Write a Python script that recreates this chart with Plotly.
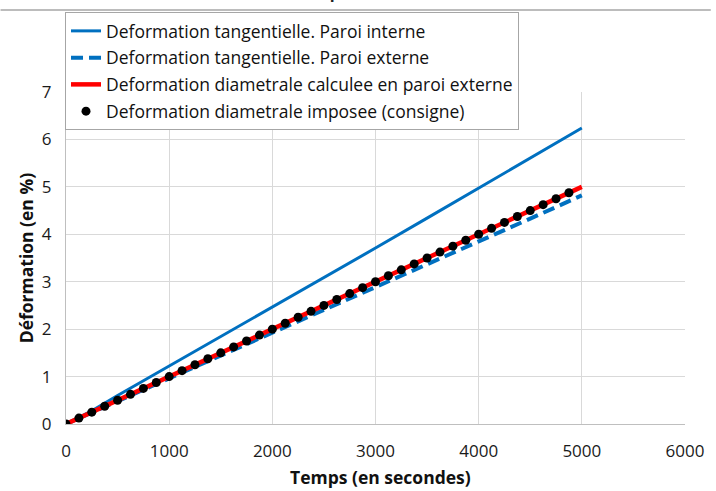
import plotly.graph_objects as go

# Temps (s) et déformations (%)
temps_paroi = [0, 250, 500, 1000, 1500, 2000, 2500, 3000, 3500, 4000, 4500, 5000]
def_tang_interne = [0, 0.28, 0.60, 1.22, 1.84, 2.46, 3.08, 3.71, 4.34, 4.97, 5.60, 6.24]
def_tang_externe = [0, 0.24, 0.47, 0.95, 1.43, 1.91, 2.39, 2.88, 3.36, 3.84, 4.33, 4.82]
def_diam_calculee = [0, 0.25, 0.50, 1.00, 1.50, 2.00, 2.50, 3.00, 3.50, 4.00, 4.50, 5.00]

temps_consigne = [0, 125, 250, 375, 500, 625, 750, 875, 1000, 1125, 1250, 1375,
                  1500, 1625, 1750, 1875, 2000, 2125, 2250, 2375, 2500, 2625,
                  2750, 2875, 3000, 3125, 3250, 3375, 3500, 3625, 3750, 3875,
                  4000, 4125, 4250, 4375, 4500, 4625, 4750, 4875]
def_diam_consigne = [0, 0.125, 0.25, 0.375, 0.5, 0.625, 0.75, 0.875, 1.0, 1.125,
                     1.25, 1.375, 1.5, 1.625, 1.75, 1.875, 2.0, 2.125, 2.25, 2.375,
                     2.5, 2.625, 2.75, 2.875, 3.0, 3.125, 3.25, 3.375, 3.5, 3.625,
                     3.75, 3.875, 4.0, 4.125, 4.25, 4.375, 4.5, 4.625, 4.75, 4.875]

x_ticks = [0, 1000, 2000, 3000, 4000, 5000, 6000]
y_ticks = [0, 1, 2, 3, 4, 5, 6, 7]

noms = [
    "Deformation tangentielle. Paroi interne",
    "Deformation tangentielle. Paroi externe",
    "Deformation diametrale calculee en paroi externe",
    "Deformation diametrale imposee (consigne)",
]

FONT = "Open Sans"
BLEU = "#0070C0"
GRILLE = "#D9D9D9"

W, H = 716, 491
ML, MR, MT, MB = 66, 26, 92, 67
PH = H - MT - MB
PW = W - ML - MR

fig = go.Figure()
fig.add_trace(go.Scatter(x=temps_paroi, y=def_tang_interne, mode="lines", name=noms[0],
                         line=dict(color=BLEU, width=3), legendgroup="a"))
fig.add_trace(go.Scatter(x=temps_paroi, y=def_tang_externe, mode="lines", name=noms[1],
                         line=dict(color=BLEU, width=4, dash="12px,6px"), legendgroup="b"))
fig.add_trace(go.Scatter(x=temps_paroi, y=def_diam_calculee, mode="lines", name=noms[2],
                         line=dict(color="#FF0000", width=4.5), legendgroup="c"))
fig.add_trace(go.Scatter(x=temps_consigne, y=def_diam_consigne, mode="markers", name=noms[3],
                         marker=dict(color="black", size=9), legendgroup="d"))

def px_x(p):
    return (p - ML) / PW

def px_y(p):
    return 1 - (p - MT) / PH

fig.update_layout(
    width=W, height=H,
    margin=dict(l=ML, r=MR, t=MT, b=MB),
    paper_bgcolor="white", plot_bgcolor="white",
    font=dict(family=FONT, size=17, color="#1a1a1a"),
    showlegend=True,
    legend=dict(
        x=px_x(65), y=px_y(12), xanchor="left", yanchor="top",
        bgcolor="white", bordercolor="#A6A6A6", borderwidth=1,
        font=dict(family=FONT, size=17.5, color="#111"),
        traceorder="grouped", tracegroupgap=1,
    ),
    xaxis=dict(
        range=[0, 6000], tickvals=x_ticks, showgrid=True, gridcolor=GRILLE,
        showline=True, linecolor="#BFBFBF", zeroline=False, ticks="",
        tickfont=dict(family=FONT, size=17, color="#1a1a1a"),
        ticklabelstandoff=12,
    ),
    yaxis=dict(
        range=[0, 7], tickvals=y_ticks, showgrid=True, gridcolor=GRILLE,
        showline=True, linecolor="#BFBFBF", zeroline=False, ticks="",
        tickfont=dict(family=FONT, size=17, color="#1a1a1a"),
        ticklabelstandoff=10,
    ),
    shapes=[
        dict(type="line", xref="paper", yref="paper",
             x0=px_x(0), x1=px_x(W), y0=px_y(10), y1=px_y(10),
             line=dict(color="#A6A6A6", width=1.5)),
    ],
    annotations=[
        dict(text="<b>Déformation en fonction du temps (en secondes)</b>",
             xref="paper", yref="paper", x=px_x(466), y=px_y(5),
             xanchor="right", yanchor="bottom", showarrow=False,
             font=dict(family=FONT, size=16, color="#222")),
        dict(text="<b>Temps (en secondes)</b>", xref="paper", yref="paper",
             x=px_x(383), y=px_y(477), xanchor="center", yanchor="middle",
             showarrow=False, font=dict(family=FONT, size=17.5, color="#111")),
        dict(text="<b>Déformation (en %)</b>", xref="paper", yref="paper",
             x=px_x(26), y=px_y(258), xanchor="center", yanchor="middle",
             textangle=-90, showarrow=False,
             font=dict(family=FONT, size=17.5, color="#111")),
    ],
)

fig.write_html("out.html")
